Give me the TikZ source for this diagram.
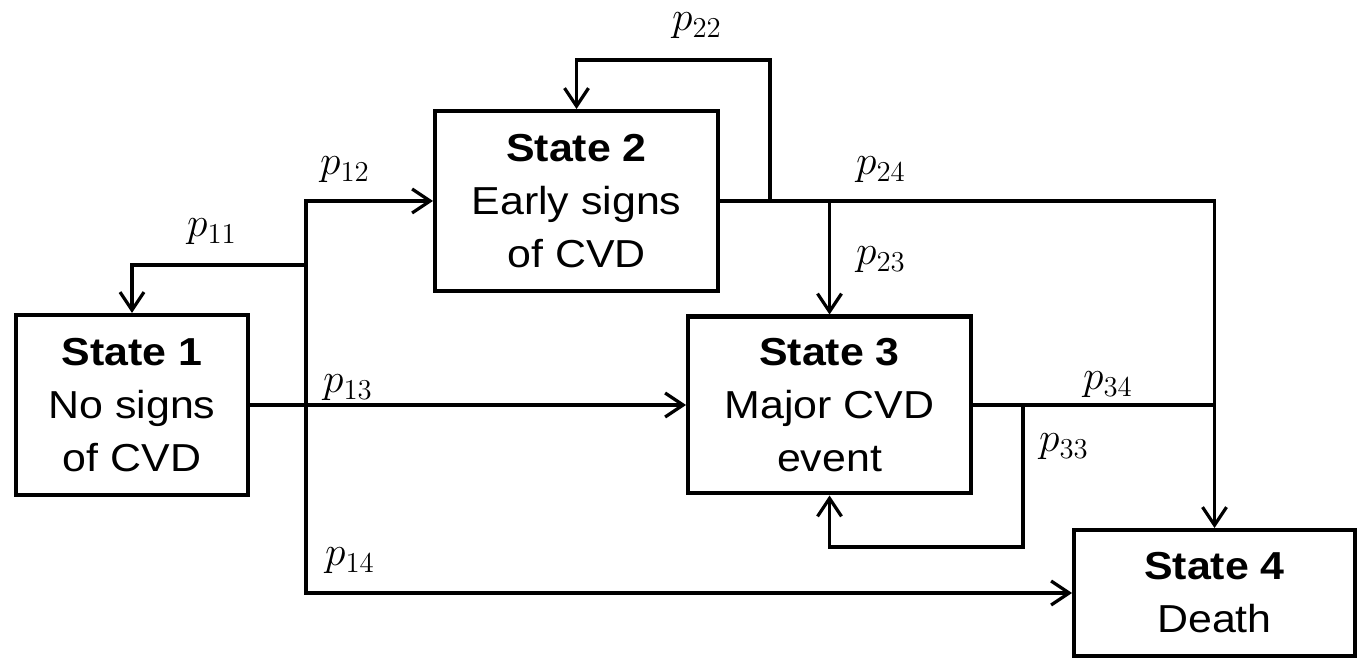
\documentclass[tikz,border=0pt]{standalone}
\usepackage{fontspec}
\setmainfont{Liberation Sans}[FakeStretch=1.1]
\usetikzlibrary{arrows.meta}

\begin{document}
\begin{tikzpicture}[x=0.5pt,y=-0.5pt,
			state/.style={draw,line width=2.2pt,align=center,inner sep=0pt,font=\fontsize{19.5}{26.5}\selectfont},
			link/.style={line width=1.6pt,-{Straight Barb[length=9pt,width=12pt]}},
			plain/.style={line width=1.6pt},
			prob/.style={inner sep=0pt,font=\fontsize{20}{24}\selectfont}]
			\useasboundingbox (0,0) rectangle (1360,667);
			\node [state,minimum width=115.8pt,minimum height=89.8pt] (S1) at (132,405) {\textbf{State 1}\\No signs\\of CVD};
			\node [state,minimum width=141.3pt,minimum height=89.8pt] (S2) at (576.5,201) {\textbf{State 2}\\Early signs\\of CVD};
			\node [state,minimum width=141.3pt,minimum height=88.3pt] (S3) at (829.5,405) {\textbf{State 3}\\Major CVD\\event};
			\node [state,minimum width=140.3pt,minimum height=62.8pt] (S4) at (1214.5,593) {\textbf{State 4}\\Death};
			\coordinate (t1) at (306,405);
			\coordinate (t11) at (306,265);
			\coordinate (t22) at (770,201);
			\coordinate (c22) at (770,60);
			\coordinate (t23) at (829.5,201);
			\coordinate (t34) at (1214.5,405);
			\coordinate (t33) at (1023,405);
			\coordinate (c33) at (1023,547);
			\draw [link] (S1) -- (S3);
			\draw [link] (t11) -| (S1);
			\draw [link] (t1) |- (S2);
			\draw [link] (t1) |- (S4);
			\draw [link] (S2) -| (S4);
			\draw [link] (t22) -- (c22) -| (S2);
			\draw [link] (t23) -- (S3);
			\draw [plain] (S3) -- (t34);
			\draw [link] (t33) -- (c33) -| (S3);
			\node [prob] (l11) at (212,232) {$p_{11}$};
			\node [prob] (l12) at (345,170) {$p_{12}$};
			\node [prob] (l13) at (348,388) {$p_{13}$};
			\node [prob] (l14) at (350,561) {$p_{14}$};
			\node [prob] (l22) at (697,26) {$p_{22}$};
			\node [prob] (l23) at (881,260) {$p_{23}$};
			\node [prob] (l24) at (881,170) {$p_{24}$};
			\node [prob] (l33) at (1064,447) {$p_{33}$};
			\node [prob] (l34) at (1108,385) {$p_{34}$};
		\end{tikzpicture}
\end{document}
